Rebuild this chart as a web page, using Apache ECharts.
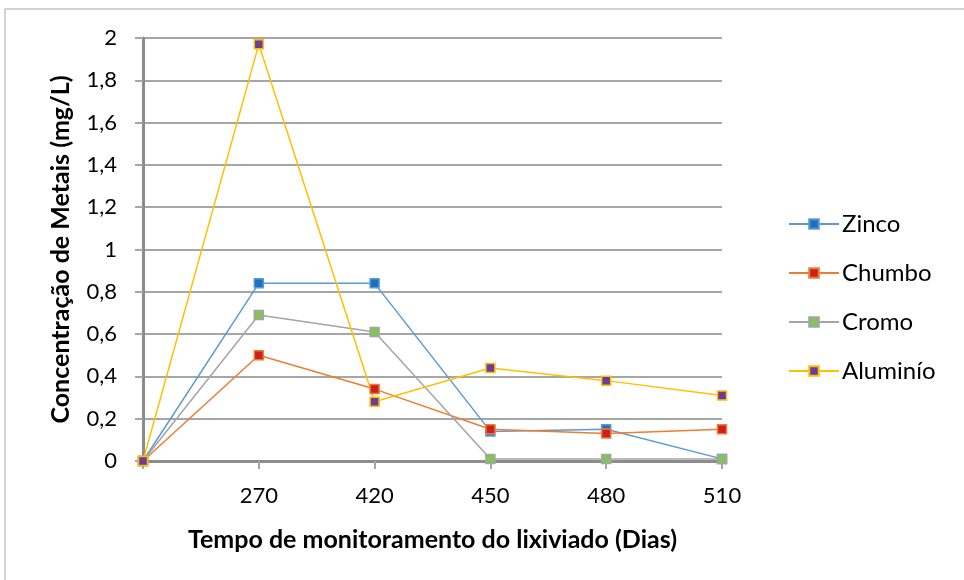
<!DOCTYPE html>
<html>
<head>
<meta charset="utf-8">
<script src="https://cdn.jsdelivr.net/npm/echarts@6/dist/echarts.min.js"></script>
<style>
  html, body { margin: 0; padding: 0; background: #fff; }
  #chart { width: 964px; height: 580px; }
</style>
</head>
<body>
<div id="chart"></div>
<script>
// Monitoring days (first point is the start, unlabeled)
const dias = ['', '270', '420', '450', '480', '510'];

// Metal concentrations in mg/L
const zinco    = [0, 0.84, 0.84, 0.14, 0.15, 0.01];
const chumbo   = [0, 0.50, 0.34, 0.15, 0.13, 0.15];
const cromo    = [0, 0.69, 0.61, 0.01, 0.01, 0.01];
const aluminio = [0, 1.97, 0.28, 0.44, 0.38, 0.31];

const FONT = 'Lato, "Open Sans", sans-serif';

function serie(name, data, lineColor, fillColor) {
  return {
    name: name,
    type: 'line',
    data: data,
    symbol: 'rect',
    symbolSize: 9,
    showAllSymbol: true,
    lineStyle: { color: lineColor, width: 1.5 },
    itemStyle: { color: fillColor, borderColor: lineColor, borderWidth: 1.5 },
    emphasis: { disabled: true },
    animation: false
  };
}

const chart = echarts.init(document.getElementById('chart'));
chart.setOption({
  backgroundColor: '#fff',
  animation: false,
  textStyle: { fontFamily: FONT },
  graphic: [{
    type: 'rect',
    shape: { x: 5, y: 9, width: 1200, height: 800 },
    style: { fill: 'none', stroke: '#a6a6a6', lineWidth: 1 },
    silent: true
  }],
  grid: { left: 143, right: 242, top: 38, bottom: 119 },
  legend: {
    orient: 'vertical',
    left: 783,
    top: 207,
    itemWidth: 50,
    itemHeight: 12,
    itemGap: 25,
    textStyle: { fontSize: 24, color: '#000', fontFamily: FONT, padding: [0, 0, 0, -2] },
    data: ['Zinco', 'Chumbo', 'Cromo', 'Aluminío']
  },
  xAxis: {
    type: 'category',
    data: dias,
    boundaryGap: false,
    name: 'Tempo de monitoramento do lixiviado (Dias)',
    nameLocation: 'middle',
    nameGap: 66,
    nameTextStyle: { fontSize: 25, fontWeight: 'bold', color: '#000', fontFamily: FONT },
    axisLine: { lineStyle: { color: '#8c8c8c', width: 3 } },
    axisTick: { show: true, length: 8, alignWithLabel: true, lineStyle: { color: '#a6a6a6', width: 2 } },
    axisLabel: { fontSize: 22, color: '#000', margin: 24, fontFamily: FONT }
  },
  yAxis: {
    type: 'value',
    min: 0,
    max: 2,
    interval: 0.2,
    name: 'Concentração de Metais (mg/L)',
    nameLocation: 'middle',
    nameGap: 70,
    nameTextStyle: { fontSize: 25, fontWeight: 'bold', color: '#000', fontFamily: FONT },
    axisLine: { show: true, lineStyle: { color: '#8c8c8c', width: 3 } },
    axisTick: { show: true, length: 8, lineStyle: { color: '#a6a6a6', width: 2 } },
    splitLine: { lineStyle: { color: '#a6a6a6', width: 2 } },
    axisLabel: {
      fontSize: 22, color: '#000', margin: 26, fontFamily: FONT,
      formatter: v => String(Math.round(v * 10) / 10).replace('.', ',')
    }
  },
  series: [
    serie('Zinco', zinco, '#5b9bd5', '#1f6fbf'),
    serie('Chumbo', chumbo, '#ed7d31', '#cc1f1f'),
    serie('Cromo', cromo, '#a5a5a5', '#82c35a'),
    serie('Aluminío', aluminio, '#ffc000', '#6a3d9a')
  ]
});
</script>
</body>
</html>
